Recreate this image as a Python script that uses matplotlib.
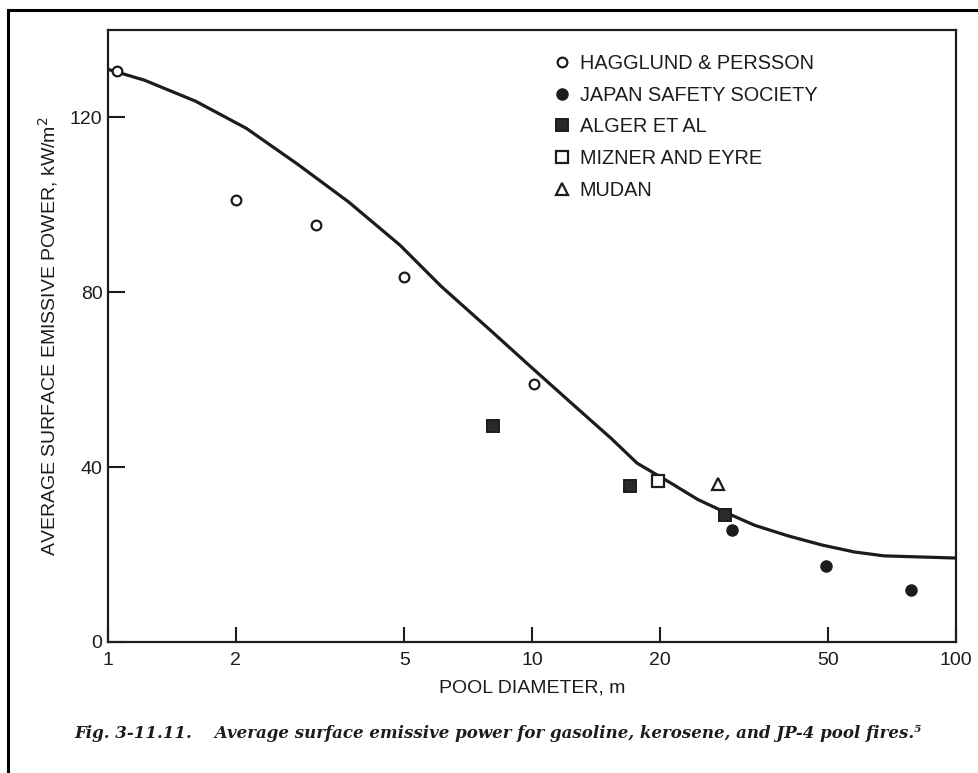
import matplotlib.pyplot as plt
from matplotlib.lines import Line2D

# solid curve (pool diameter m, emissive power kW/m2)
curve_d = [1.0, 1.22, 1.61, 2.12, 2.80, 3.69, 4.88, 6.1, 8.0, 10, 12.5, 15.4,
           17.7, 21.3, 24.6, 28.5, 33.5, 40.1, 48.2, 57.5, 67.6, 100]
curve_e = [131, 128.5, 123.7, 117.5, 109.3, 100.7, 90.8, 81.4, 71.2, 62.7, 54.3, 46.5,
           40.9, 36.3, 32.6, 29.7, 26.7, 24.3, 22.2, 20.6, 19.7, 19.2]

# measured points
hagg_d = [1.05, 2.0, 3.1, 5.0, 10.1]
hagg_e = [130.6, 101, 95.4, 83.5, 59]
japan_d = [29.7, 49.3, 78.5]
japan_e = [25.7, 17.4, 12.0]
alger_d = [8.07, 17.0, 28.6]
alger_e = [49.4, 35.7, 29.0]
mizner_d = [19.8]
mizner_e = [36.8]
mudan_d = [27.5]
mudan_e = [36.2]

xticks = [1, 2, 5, 10, 20, 50, 100]
yticks = [0, 40, 80, 120]

ink = "#1c1c1c"
plt.rcParams["font.family"] = ["Liberation Sans", "DejaVu Sans"]

fig = plt.figure(figsize=(9.79, 7.73), dpi=100)
ax = fig.add_axes([0.1103, 0.1695, 0.8662, 0.7917])

ax.plot(curve_d, curve_e, color=ink, lw=2.3, solid_capstyle="butt")

ax.plot(hagg_d, hagg_e, "o", ms=7, mfc="white", mec=ink, mew=1.6, ls="none",
        label="HAGGLUND & PERSSON")
ax.plot(japan_d, japan_e, "o", ms=8, mfc=ink, mec=ink, ls="none",
        label="JAPAN SAFETY SOCIETY")
ax.plot(alger_d, alger_e, "s", ms=9, mfc="#2a2a2a", mec=ink, mew=1.4, ls="none",
        label="ALGER ET AL")
ax.plot(mizner_d, mizner_e, "s", ms=9, mfc="white", mec=ink, mew=1.6, ls="none",
        label="MIZNER AND EYRE")
ax.plot(mudan_d, mudan_e, "^", ms=9, mfc="white", mec=ink, mew=1.6, ls="none",
        label="MUDAN")

ax.set_xscale("log")
ax.set_xlim(1, 100)
ax.set_ylim(0, 140)
ax.set_xticks(xticks)
ax.set_xticklabels([str(t) for t in xticks])
ax.xaxis.set_minor_locator(plt.NullLocator())
ax.set_yticks(yticks)

ax.tick_params(axis="x", direction="in", length=11, width=1.5, pad=7,
               labelsize=14, colors=ink)
ax.tick_params(axis="y", direction="in", length=12, width=1.5, pad=4,
               labelsize=14, colors=ink)
for sp in ax.spines.values():
    sp.set_linewidth(1.6)
    sp.set_color(ink)

ax.set_xlabel("POOL DIAMETER, m", fontsize=14, color=ink, va="center")
ax.xaxis.set_label_coords(0.5, -0.075)
ax.set_ylabel("AVERAGE SURFACE EMISSIVE POWER, kW/m$^2$", fontsize=14, color=ink,
              va="center", ha="center")
ax.yaxis.set_label_coords(-0.0708, 0.5)

ax.legend(loc="upper left", bbox_to_anchor=(552 / 979, 1 - 54 / 773),
          bbox_transform=fig.transFigure, frameon=False, fontsize=14.3,
          handlelength=1.0, handletextpad=0.4, labelspacing=0.64,
          borderpad=0, borderaxespad=0, labelcolor=ink)

fig.text(74 / 979, 1 - 733 / 773,
         "Fig. 3-11.11.    Average surface emissive power for gasoline, kerosene, and JP-4 pool fires.\u2075",
         family=["DejaVu Serif"], style="italic", weight="bold",
         fontsize=12.0, color=ink, va="center", ha="left")

# page frame (top and left edges of the scan)
fig.add_artist(Line2D([8 / 979, 1.0], [1 - 10 / 773, 1 - 10 / 773],
                      transform=fig.transFigure, color="black", lw=2.2))
fig.add_artist(Line2D([8 / 979, 8 / 979], [0.0, 1 - 10 / 773],
                      transform=fig.transFigure, color="black", lw=2.2))

fig.savefig("out.png", dpi=100)
